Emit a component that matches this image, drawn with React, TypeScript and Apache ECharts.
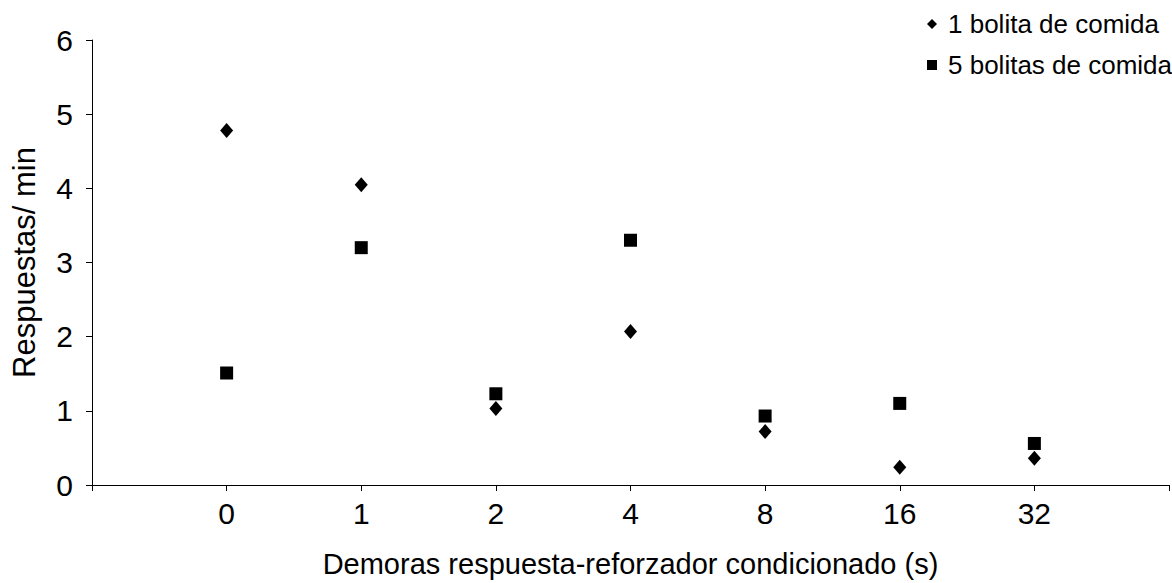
import React, { useEffect, useRef } from "react";
import * as echarts from "echarts";

const categories = ["0", "1", "2", "4", "8", "16", "32"];
const oneBolita = [4.78, 4.05, 1.03, 2.07, 0.72, 0.24, 0.36];
const fiveBolitas = [1.51, 3.2, 1.23, 3.3, 0.93, 1.1, 0.56];
const yTicks = [0, 1, 2, 3, 4, 5, 6];

export default function App() {
  const ref = useRef<HTMLDivElement>(null);
  useEffect(() => {
    const chart = echarts.init(ref.current!, null, { renderer: "svg" });
    const font = "'Liberation Sans', Arial, sans-serif";
    chart.setOption({
      animation: false,
      backgroundColor: "#ffffff",
      textStyle: { fontFamily: font },
      grid: { left: 92, right: 1, top: 40, bottom: 98, containLabel: false },
      legend: {
        orient: "vertical",
        left: 922,
        top: 4,
        itemGap: 11,
        itemWidth: 10,
        itemHeight: 10,
        textStyle: {
          fontFamily: font,
          fontSize: 26,
          lineHeight: 30,
          color: "#000",
          padding: [0, 0, 0, 6],
        },
        data: [
          { name: "1 bolita de comida", icon: "diamond" },
          { name: "5 bolitas de comida", icon: "rect" },
        ],
      },
      xAxis: {
        type: "value",
        min: 0,
        max: categories.length + 1,
        interval: 1,
        name: "Demoras respuesta-reforzador condicionado (s)",
        nameLocation: "middle",
        nameGap: 64,
        nameTextStyle: { fontFamily: font, fontSize: 29, color: "#000" },
        axisLine: { lineStyle: { color: "#000", width: 1 } },
        axisTick: { show: true, length: 6, lineStyle: { color: "#000" } },
        axisLabel: {
          fontFamily: font,
          fontSize: 30,
          color: "#000",
          margin: 13,
          formatter: (v: number) =>
            v >= 1 && v <= categories.length ? categories[v - 1] : "",
        },
        splitLine: { show: false },
      },
      yAxis: {
        type: "value",
        min: yTicks[0],
        max: yTicks[yTicks.length - 1],
        interval: 1,
        name: "Respuestas/ min",
        nameLocation: "middle",
        nameGap: 52,
        nameTextStyle: { fontFamily: font, fontSize: 31, color: "#000" },
        axisLine: { show: true, lineStyle: { color: "#000", width: 1 } },
        axisTick: { show: true, length: 6, lineStyle: { color: "#000" } },
        axisLabel: { fontFamily: font, fontSize: 30, color: "#000", margin: 19 },
        splitLine: { show: false },
      },
      series: [
        {
          name: "1 bolita de comida",
          type: "scatter",
          symbol: "diamond",
          symbolSize: [13, 15],
          itemStyle: { color: "#000", opacity: 1 },
          data: oneBolita.map((v, i) => [i + 1, v]),
        },
        {
          name: "5 bolitas de comida",
          type: "scatter",
          symbol: "rect",
          symbolSize: 13,
          itemStyle: { color: "#000", opacity: 1 },
          data: fiveBolitas.map((v, i) => [i + 1, v]),
        },
      ],
    });
    return () => chart.dispose();
  }, []);
  return <div ref={ref} style={{ width: 1172, height: 583, position: "absolute", left: 0, top: 0 }} />;
}
